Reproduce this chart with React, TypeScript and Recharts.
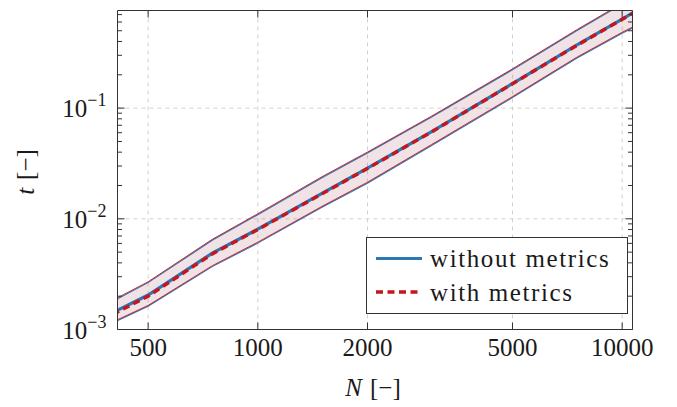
import React from 'react';
import { ComposedChart, Line, Area, XAxis, YAxis, CartesianGrid, Legend } from 'recharts';

const nValues = [400, 500, 750, 1000, 1500, 2000, 3000, 5000, 7500, 10000, 11000];
const tWithout = [0.00142, 0.00205, 0.0049, 0.00807, 0.017, 0.0287, 0.0614, 0.1667, 0.37, 0.637, 0.766];
const tWith = [0.00137, 0.002, 0.00482, 0.008, 0.0168, 0.0285, 0.061, 0.166, 0.368, 0.635, 0.763];
const lowWithout = [0.00115, 0.00162, 0.0037, 0.00603, 0.0127, 0.021, 0.046, 0.1245, 0.282, 0.475, 0.555];
const highWithout = [0.0018, 0.00265, 0.0064, 0.0109, 0.0235, 0.0393, 0.083, 0.222, 0.5, 0.87, 1.05];
const lowWith = [0.00117, 0.00165, 0.00377, 0.00615, 0.01295, 0.02142, 0.0469, 0.127, 0.2876, 0.4845, 0.566];
const highWith = [0.00184, 0.0027, 0.00653, 0.01112, 0.024, 0.0401, 0.0847, 0.2265, 0.51, 0.887, 1.071];

const xMajorTicks = [500, 1000, 2000, 5000, 10000];
const yMajorTicks = [0.001, 0.01, 0.1];
const yMajorExponents = ['\u22123', '\u22122', '\u22121'];
const yMinorTicks = [
  0.002, 0.003, 0.004, 0.005, 0.006, 0.007, 0.008, 0.009,
  0.02, 0.03, 0.04, 0.05, 0.06, 0.07, 0.08, 0.09,
  0.2, 0.3, 0.4, 0.5, 0.6, 0.7,
];
const seriesNames = ['without metrics', 'with metrics'];
const MINUS = '\u2212';

const X_DOMAIN = [412, 10674];
const Y_DOMAIN = [0.001, 0.762];

const BLUE = '#2a78b8';
const RED = '#c4161c';
const AXIS = '#333333';
const FONT = "'Liberation Serif', 'Times New Roman', serif";
const TEXT = '#1a1a1a';

const data = nValues.map((n, i) => ({
  N: n,
  without: tWithout[i],
  withM: tWith[i],
  loA: lowWithout[i],
  hiA: highWithout[i],
  loB: lowWith[i],
  hiB: highWith[i],
  band: [lowWithout[i], highWith[i]],
}));

const BottomTick = (props: any) => {
  const { x, y, payload } = props;
  return (
    <g>
      <line x1={x} x2={x} y1={y} y2={y - 7} stroke={AXIS} strokeWidth={1} />
      <text x={x} y={y + 26} textAnchor="middle" fontSize={25} fontFamily={FONT} fill={TEXT}>
        {payload.value}
      </text>
    </g>
  );
};

const TopTick = (props: any) => {
  const { x, y } = props;
  return <line x1={x} x2={x} y1={y} y2={y + 7} stroke={AXIS} strokeWidth={1} />;
};

const LeftTick = (props: any) => {
  const { x, y, payload } = props;
  const idx = yMajorTicks.indexOf(payload.value);
  const len = idx >= 0 ? 7 : 4.5;
  return (
    <g>
      <line x1={x} x2={x + len} y1={y} y2={y} stroke={AXIS} strokeWidth={1} />
      {idx >= 0 && (
        <text x={x - 11} y={y + 9} textAnchor="end" fontSize={25} fontFamily={FONT} fill={TEXT}>
          <tspan>10</tspan>
          <tspan dy={-11} fontSize={18}>{yMajorExponents[idx]}</tspan>
        </text>
      )}
    </g>
  );
};

const RightTick = (props: any) => {
  const { x, y, payload } = props;
  const idx = yMajorTicks.indexOf(payload.value);
  const len = idx >= 0 ? 7 : 4.5;
  return <line x1={x} x2={x - len} y1={y} y2={y} stroke={AXIS} strokeWidth={1} />;
};

const LegendBox = () => (
  <svg width={262} height={77} style={{ display: 'block' }}>
    <rect x={0.5} y={0.5} width={261} height={76} fill="#ffffff" stroke={AXIS} strokeWidth={1} />
    <line x1={10} x2={56} y1={21.5} y2={21.5} stroke={BLUE} strokeWidth={3.2} />
    <text x={64} y={30} fontSize={25} fontFamily={FONT} fill={TEXT} letterSpacing={1.6}>
      {seriesNames[0]}
    </text>
    <line x1={10} x2={56} y1={55} y2={55} stroke={RED} strokeWidth={3.4} strokeDasharray="7 4.5" />
    <text x={64} y={63.5} fontSize={25} fontFamily={FONT} fill={TEXT} letterSpacing={1.6}>
      {seriesNames[1]}
    </text>
  </svg>
);

export default function App() {
  return (
    <div style={{ position: 'absolute', left: 0, top: 0, width: 677, height: 407, background: '#fff' }}>
      <ComposedChart
        width={677}
        height={407}
        data={data}
        margin={{ top: 9.5, right: 43.5, bottom: 17.5, left: 17.5 }}
      >
        <CartesianGrid
          horizontalValues={yMajorTicks}
          verticalValues={xMajorTicks}
          stroke="#d2d2d2"
          strokeDasharray="4 4"
          strokeWidth={1}
        />
        <XAxis
          dataKey="N"
          type="number"
          scale="log"
          domain={X_DOMAIN}
          allowDataOverflow
          ticks={xMajorTicks}
          interval={0}
          tickSize={0}
          tickMargin={0}
          tickLine={false}
          tick={<BottomTick />}
          axisLine={{ stroke: AXIS, strokeWidth: 1 }}
          height={60}
          label={() => (
            <text x={373} y={396} textAnchor="middle" fontSize={25} fontFamily={FONT} fill={TEXT}>
              <tspan fontStyle="italic">N</tspan>
              <tspan dx={8}>{'[' + MINUS + ']'}</tspan>
            </text>
          )}
        />
        <XAxis
          xAxisId="top"
          orientation="top"
          dataKey="N"
          type="number"
          scale="log"
          domain={X_DOMAIN}
          allowDataOverflow
          ticks={xMajorTicks}
          interval={0}
          tickSize={0}
          tickMargin={0}
          tickLine={false}
          tick={<TopTick />}
          axisLine={{ stroke: AXIS, strokeWidth: 1 }}
          height={1}
        />
        <YAxis
          type="number"
          scale="log"
          domain={Y_DOMAIN}
          allowDataOverflow
          ticks={[...yMajorTicks, ...yMinorTicks]}
          interval={0}
          tickSize={0}
          tickMargin={0}
          tickLine={false}
          tick={<LeftTick />}
          axisLine={{ stroke: AXIS, strokeWidth: 1 }}
          width={100}
          label={() => (
            <text
              x={34}
              y={172}
              textAnchor="middle"
              fontSize={25}
              fontFamily={FONT}
              fill={TEXT}
              transform="rotate(-90, 34, 172)"
            >
              <tspan fontStyle="italic">t</tspan>
              <tspan dx={8}>{'[' + MINUS + ']'}</tspan>
            </text>
          )}
        />
        <YAxis
          yAxisId="right"
          orientation="right"
          type="number"
          scale="log"
          domain={Y_DOMAIN}
          allowDataOverflow
          ticks={[...yMajorTicks, ...yMinorTicks]}
          interval={0}
          tickSize={0}
          tickMargin={0}
          tickLine={false}
          tick={<RightTick />}
          axisLine={{ stroke: AXIS, strokeWidth: 1 }}
          width={1}
        />
        <Area
          dataKey="band"
          type="linear"
          stroke="none"
          fill="#b06070"
          fillOpacity={0.18}
          isAnimationActive={false}
          legendType="none"
          activeDot={false}
        />
        <Line dataKey="hiA" type="linear" stroke={BLUE} strokeWidth={1.1} dot={false} activeDot={false} isAnimationActive={false} legendType="none" />
        <Line dataKey="loA" type="linear" stroke={BLUE} strokeWidth={1.1} dot={false} activeDot={false} isAnimationActive={false} legendType="none" />
        <Line dataKey="hiB" type="linear" stroke={RED} strokeWidth={0.9} dot={false} activeDot={false} isAnimationActive={false} legendType="none" />
        <Line dataKey="loB" type="linear" stroke={RED} strokeWidth={0.9} dot={false} activeDot={false} isAnimationActive={false} legendType="none" />
        <Line dataKey="without" name={seriesNames[0]} type="linear" stroke={BLUE} strokeWidth={3.2} dot={false} activeDot={false} isAnimationActive={false} />
        <Line dataKey="withM" name={seriesNames[1]} type="linear" stroke={RED} strokeWidth={3.4} strokeDasharray="7 4.5" dot={false} activeDot={false} isAnimationActive={false} />
        <Line
          dataKey="without"
          xAxisId="top"
          yAxisId="right"
          type="linear"
          stroke="none"
          strokeOpacity={0}
          dot={false}
          activeDot={false}
          isAnimationActive={false}
          legendType="none"
        />
        <Legend
          layout="horizontal"
          verticalAlign="middle"
          align="center"
          wrapperStyle={{ left: 366, top: 237, width: 262, height: 77 }}
          content={() => <LegendBox />}
        />
      </ComposedChart>
    </div>
  );
}
